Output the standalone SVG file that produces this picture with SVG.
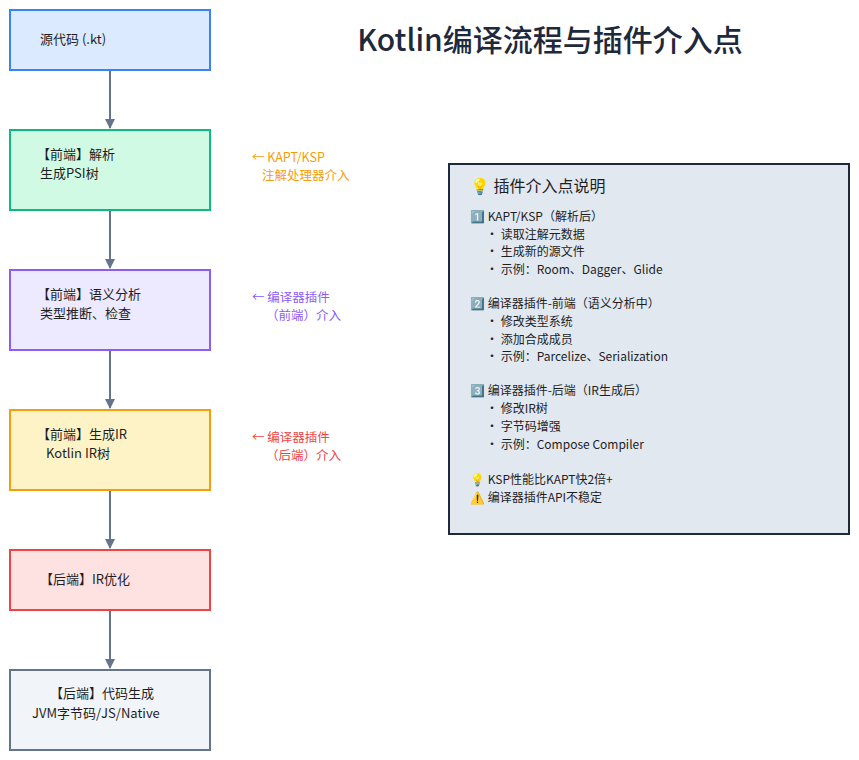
<svg xmlns="http://www.w3.org/2000/svg" width="859" height="760" viewBox="0 0 859 760">
<style>
text{font-family:"Noto Sans CJK SC",sans-serif;font-size:13px;fill:#1e1e1e}
.n{stroke-width:2}
.c{stroke:#64748b;stroke-width:2;fill:none}
.b{font-size:12px}
</style>
<defs><marker id="a" viewBox="0 0 10 10" refX="9" refY="5" markerWidth="5" markerHeight="5" orient="auto"><path d="M0,0L10,5L0,10z" fill="#64748b"/></marker></defs>
<rect width="859" height="760" fill="#fff"/>
<text x="550" y="51" text-anchor="middle" style="font-size:30px;font-weight:500;fill:#1e293b">Kotlin编译流程与插件介入点</text>
<g id="connectors">
<path class="c" d="M110,70V128" marker-end="url(#a)"/>
<path class="c" d="M110,210V268" marker-end="url(#a)"/>
<path class="c" d="M110,350V408" marker-end="url(#a)"/>
<path class="c" d="M110,490V548" marker-end="url(#a)"/>
<path class="c" d="M110,610V668" marker-end="url(#a)"/>
</g>
<g id="n1"><rect class="n" x="10" y="10" width="200" height="60" fill="#dbeafe" stroke="#3b82f6"/><text x="40" y="44">源代码 (.kt)</text></g>
<g id="n2"><rect class="n" x="10" y="130" width="200" height="80" fill="#d1fae5" stroke="#10b981"/><text x="37" y="159">【前端】解析</text><text x="40" y="178">生成PSI树</text></g>
<g id="n3"><rect class="n" x="10" y="270" width="200" height="80" fill="#ede9fe" stroke="#8b5cf6"/><text x="37" y="299">【前端】语义分析</text><text x="40" y="318">类型推断、检查</text></g>
<g id="n4"><rect class="n" x="10" y="410" width="200" height="80" fill="#fef3c7" stroke="#f59e0b"/><text x="37" y="439">【前端】生成IR</text><text x="46" y="458">Kotlin IR树</text></g>
<g id="n5"><rect class="n" x="10" y="550" width="200" height="60" fill="#fee2e2" stroke="#ef4444"/><text x="40" y="584">【后端】IR优化</text></g>
<g id="n6"><rect class="n" x="10" y="670" width="200" height="80" fill="#f1f5f9" stroke="#64748b"/><text x="50" y="698">【后端】代码生成</text><text x="32" y="718">JVM字节码/JS/Native</text></g>
<g id="l1"><text x="252" y="162" style="fill:#f59e0b;font-size:12.5px">← KAPT/KSP</text><text x="262" y="180" style="fill:#f59e0b;font-size:12.5px">注解处理器介入</text></g>
<g id="l2"><text x="252" y="302" style="fill:#8b5cf6;font-size:12.5px">← 编译器插件</text><text x="266" y="320" style="fill:#8b5cf6;font-size:12.5px">（前端）介入</text></g>
<g id="l3"><text x="252" y="442" style="fill:#ef4444;font-size:12.5px">← 编译器插件</text><text x="266" y="460" style="fill:#ef4444;font-size:12.5px">（后端）介入</text></g>
<g id="legend">
<rect x="449" y="164" width="400" height="370" fill="#e2e8f0" stroke="#1e293b" stroke-width="2"/>
<text x="470" y="192" style="font-size:16px">💡  插件介入点说明</text>
<text class="b" x="470" y="221">1️⃣ KAPT/KSP（解析后）</text>
<text class="b" x="486" y="239">• 读取注解元数据</text>
<text class="b" x="486" y="256">• 生成新的源文件</text>
<text class="b" x="486" y="274">• 示例：Room、Dagger、Glide</text>
<text class="b" x="470" y="308">2️⃣ 编译器插件-前端（语义分析中）</text>
<text class="b" x="486" y="326">• 修改类型系统</text>
<text class="b" x="486" y="344">• 添加合成成员</text>
<text class="b" x="486" y="361">• 示例：Parcelize、Serialization</text>
<text class="b" x="470" y="395">3️⃣ 编译器插件-后端（IR生成后）</text>
<text class="b" x="486" y="413">• 修改IR树</text>
<text class="b" x="486" y="431">• 字节码增强</text>
<text class="b" x="486" y="449">• 示例：Compose Compiler</text>
<text class="b" x="470" y="484">💡 KSP性能比KAPT快2倍+</text>
<text class="b" x="470" y="502">⚠️ 编译器插件API不稳定</text>
</g>
</svg>
